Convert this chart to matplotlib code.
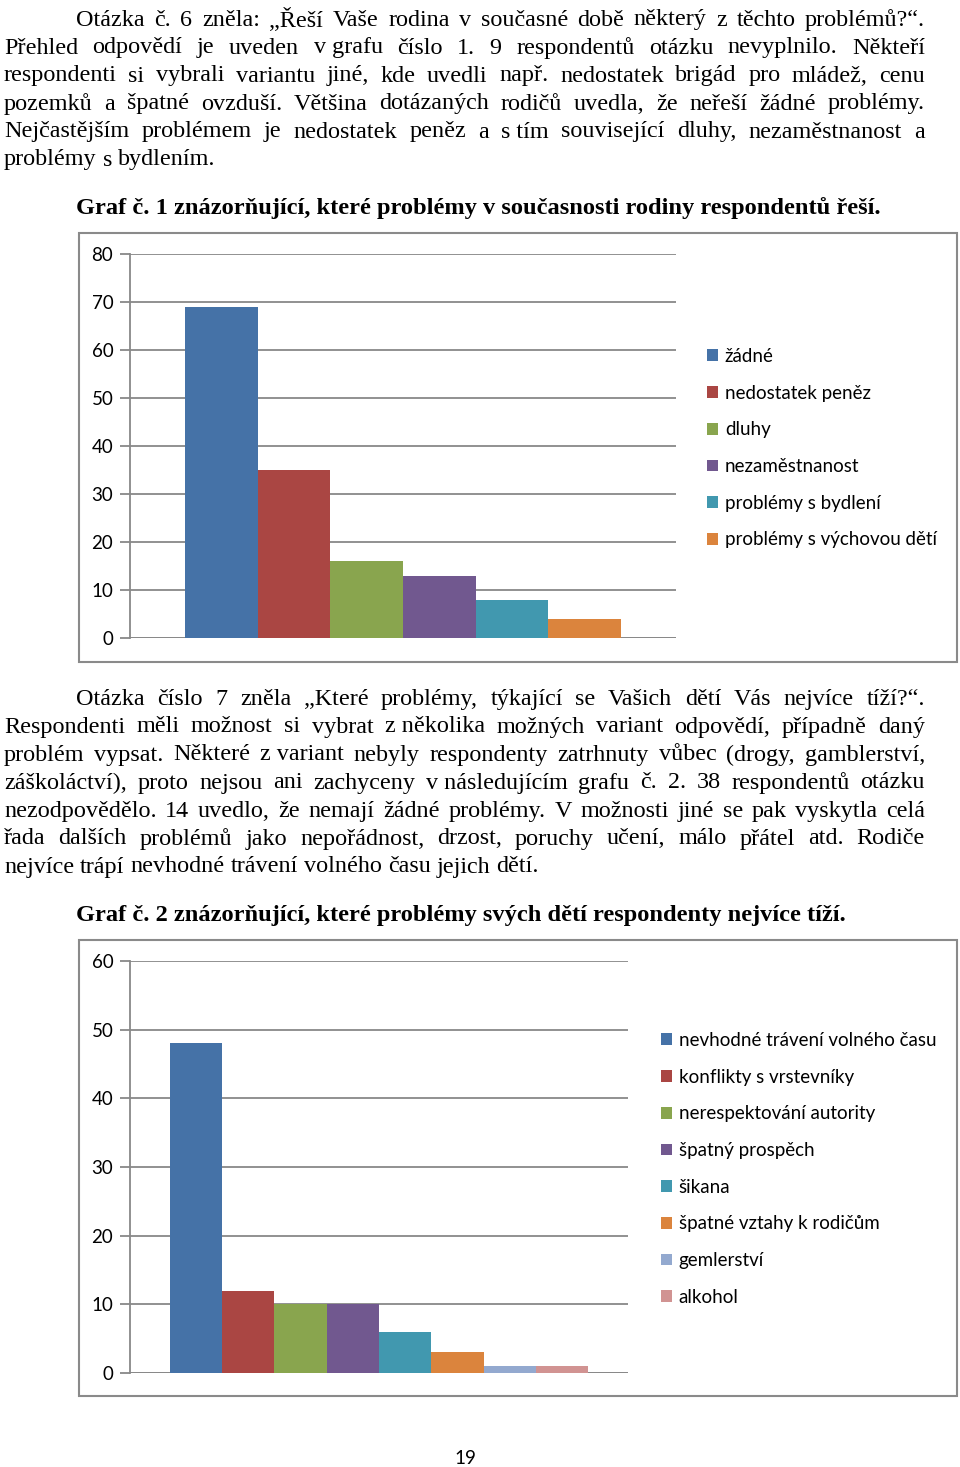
import matplotlib
matplotlib.use("Agg")
import matplotlib.pyplot as plt
from matplotlib.patches import Rectangle, Patch

W, H = 960, 1467
DPI = 100

# ---------------- data ----------------
cats1 = ["žádné", "nedostatek peněz", "dluhy", "nezaměstnanost",
         "problémy s bydlení", "problémy s výchovou dětí"]
vals1 = [69, 35, 16, 13, 8, 4]

cats2 = ["nevhodné trávení volného času", "konflikty s vrstevníky",
         "nerespektování autority", "špatný prospěch", "šikana",
         "špatné vztahy k rodičům", "gemlerství", "alkohol"]
vals2 = [48, 12, 10, 10, 6, 3, 1, 1]

yticks1 = [0, 10, 20, 30, 40, 50, 60, 70, 80]
yticks2 = [0, 10, 20, 30, 40, 50, 60]

colors = ["#4572A7", "#AA4643", "#89A54E", "#71588F", "#4198AF",
          "#DB843D", "#93A9CF", "#D19392"]

para1 = [
    "Otázka č. 6 zněla: „Řeší Vaše rodina v současné době některý z těchto problémů?“.",
    "Přehled odpovědí je uveden v\u00a0grafu číslo 1. 9 respondentů otázku nevyplnilo. Někteří",
    "respondenti si vybrali variantu jiné, kde uvedli např. nedostatek brigád pro mládež, cenu",
    "pozemků a špatné ovzduší. Většina dotázaných rodičů uvedla, že neřeší žádné problémy.",
    "Nejčastějším problémem je nedostatek peněz a s\u00a0tím související dluhy, nezaměstnanost a",
    "problémy s bydlením.",
]
title1 = "Graf č. 1 znázorňující, které problémy v současnosti rodiny respondentů řeší."

para2 = [
    "Otázka číslo 7 zněla „Které problémy, týkající se Vašich dětí Vás nejvíce tíží?“.",
    "Respondenti měli možnost si vybrat z\u00a0několika možných variant odpovědí, případně daný",
    "problém vypsat. Některé z\u00a0variant nebyly respondenty zatrhnuty vůbec (drogy, gamblerství,",
    "záškoláctví), proto nejsou ani zachyceny v\u00a0následujícím grafu č. 2. 38 respondentů otázku",
    "nezodpovědělo. 14 uvedlo, že nemají žádné problémy. V možnosti jiné se pak vyskytla celá",
    "řada dalších problémů jako nepořádnost, drzost, poruchy učení, málo přátel atd. Rodiče",
    "nejvíce trápí nevhodné trávení volného času jejich dětí.",
]
title2 = "Graf č. 2 znázorňující, které problémy svých dětí respondenty nejvíce tíží."
page_no = "19"

SERIF = ["Liberation Serif", "DejaVu Serif"]
SANS = ["Lato", "DejaVu Sans"]
BODY = 17.4
TITLE = 17.6

fig = plt.figure(figsize=(W / DPI, H / DPI), dpi=DPI)
renderer = fig.canvas.get_renderer()


def fx(x):
    return x / W


def fy(y):
    return 1 - y / H


def text_width(s, size):
    t = fig.text(0, 0, s, family=SERIF, fontsize=size)
    w = t.get_window_extent(renderer).width
    t.remove()
    return w


def para(lines, y0, dy, x_first, x_left, x_right, size):
    space = text_width("a a", size) - text_width("aa", size)
    for i, line in enumerate(lines):
        xs = x_first if i == 0 else x_left
        words = line.split(" ")
        ts = [fig.text(0, 0, w, family=SERIF, fontsize=size, va="center", ha="left")
              for w in words]
        widths = [t.get_window_extent(renderer).width for t in ts]
        last = i == len(lines) - 1
        if last or len(words) == 1:
            gap = space
        else:
            gap = (x_right - xs - sum(widths)) / (len(words) - 1)
        x = xs
        for t, w in zip(ts, widths):
            t.set_position((fx(x), fy(y0 + i * dy)))
            x += w + gap


para(para1, 20, 28, 76, 4, 925, BODY)
fig.text(fx(76), fy(208), title1, family=SERIF, fontsize=TITLE, fontweight="bold",
         va="center", ha="left")
para(para2, 699, 28, 76, 4, 925, BODY)
fig.text(fx(76), fy(915), title2, family=SERIF, fontsize=TITLE, fontweight="bold",
         va="center", ha="left")
fig.text(fx(465), fy(1458), page_no, family=SANS, fontsize=13.5, va="center", ha="center")

# chart boxes
for (x0, y0, x1, y1) in [(79, 233, 957, 662), (79, 940, 957, 1396)]:
    fig.patches.append(Rectangle((fx(x0), fy(y1)), fx(x1 - x0), (y1 - y0) / H,
                                 transform=fig.transFigure, fill=False,
                                 edgecolor="#8a8a8a", linewidth=1.5))

GRID = "#888888"


def chart(rect, cats, vals, yticks, group, legend_xy, spacing):
    ax = fig.add_axes(rect)
    n = len(vals)
    bw = group / n
    start = -group / 2 + bw / 2
    handles = []
    for i, (c, v) in enumerate(zip(cats, vals)):
        ax.bar(start + i * bw, v, width=bw, color=colors[i], zorder=3)
        handles.append(Patch(facecolor=colors[i], label=c))
    ax.set_xlim(-0.5, 0.5)
    ax.set_ylim(yticks[0], yticks[-1])
    ax.set_yticks(yticks)
    ax.set_xticks([])
    ax.grid(axis="y", color=GRID, linewidth=1.3, zorder=0)
    for s in ["top", "right", "bottom"]:
        ax.spines[s].set_visible(False)
    ax.spines["left"].set_color(GRID)
    ax.spines["left"].set_linewidth(1.3)
    ax.tick_params(axis="y", length=7, width=1.3, color=GRID, pad=5, labelsize=13.5)
    for lab in ax.get_yticklabels():
        lab.set_family(SANS)
    ax.axhline(0, color=GRID, linewidth=1.3, zorder=2)
    fig.legend(handles=handles, loc="upper left", bbox_to_anchor=legend_xy,
               bbox_transform=fig.transFigure, frameon=False,
               prop={"family": SANS, "size": 13.5}, handlelength=0.6,
               handleheight=0.6, handletextpad=0.35, labelspacing=spacing,
               borderaxespad=0, borderpad=0)
    return ax


chart([fx(130), fy(638), fx(676 - 130), (638 - 254) / H], cats1, vals1, yticks1,
      0.797, (fx(707), fy(348)), 1.05)
chart([fx(130), fy(1373), fx(628 - 130), (1373 - 961) / H], cats2, vals2, yticks2,
      0.841, (fx(661), fy(1032)), 1.05)

fig.savefig("out.png", dpi=DPI)
